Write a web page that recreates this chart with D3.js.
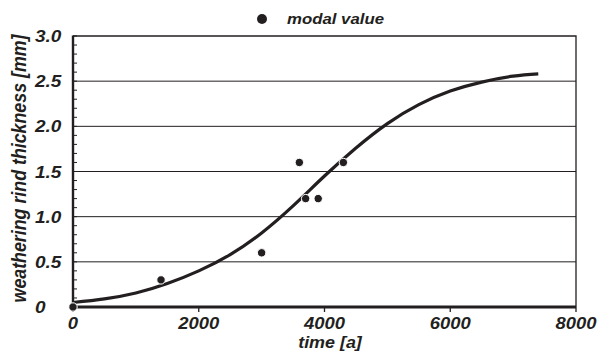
<!DOCTYPE html>
<html>
<head>
<meta charset="utf-8">
<script src="https://cdn.jsdelivr.net/npm/d3@7"></script>
<style>
  body { margin: 0; background: #fff; }
  text { font-family: "Liberation Sans", Arial, sans-serif; font-weight: bold; font-style: italic; fill: #231f20; }
</style>
</head>
<body>
<script>
// modal values (time [a], thickness [mm])
const modalTime = [0, 1400, 3000, 3600, 3700, 3900, 4300];
const modalThickness = [0, 0.3, 0.6, 1.6, 1.2, 1.2, 1.6];

// fitted curve
const curveTime = [0, 500, 1000, 1500, 2000, 2500, 3000, 3500, 4000, 4500, 5000, 5500, 6000, 6500, 7000, 7400];
const curveThickness = [0.05, 0.09, 0.155, 0.26, 0.4, 0.58, 0.82, 1.12, 1.45, 1.76, 2.03, 2.24, 2.39, 2.49, 2.555, 2.58];

const xTicks = [0, 2000, 4000, 6000, 8000];
const yTicks = [0, 0.5, 1.0, 1.5, 2.0, 2.5, 3.0];
const yTickLabels = ['0', '0.5', '1.0', '1.5', '2.0', '2.5', '3.0'];

const width = 598, height = 357;
const margin = { top: 36, right: 22, bottom: 50, left: 73 };
const ink = '#231f20';
const stretch = 1.12; // the lettering is a bit wide

const svg = d3.select('body').append('svg')
  .attr('width', width)
  .attr('height', height);

const x = d3.scaleLinear().domain([0, 8000]).range([margin.left, width - margin.right]);
const y = d3.scaleLinear().domain([0, 3]).range([height - margin.bottom, margin.top]);

function label(parent, px, py, size, anchor, str) {
  return parent.append('text')
    .attr('transform', 'translate(' + px + ',' + py + ') scale(' + stretch + ',1)')
    .attr('text-anchor', anchor)
    .attr('font-size', size)
    .text(str);
}

// horizontal grid lines
svg.append('g').selectAll('line')
  .data(yTicks.slice(1, -1))
  .join('line')
  .attr('x1', x(0)).attr('x2', x(8000))
  .attr('y1', d => y(d)).attr('y2', d => y(d))
  .attr('stroke', ink).attr('stroke-width', 1);

// frame: top and right thin
svg.append('path')
  .attr('d', ['M', x(0), y(3), 'L', x(8000), y(3), 'L', x(8000), y(0)].join(' '))
  .attr('fill', 'none').attr('stroke', ink).attr('stroke-width', 1.3);

// minor ticks on y axis, inside
const minor = d3.range(0, 3.001, 0.1);
svg.append('g').selectAll('line')
  .data(minor)
  .join('line')
  .attr('x1', x(0)).attr('x2', x(0) + 4)
  .attr('y1', d => y(d)).attr('y2', d => y(d))
  .attr('stroke', ink).attr('stroke-width', 1);

// x ticks, outside
svg.append('g').selectAll('line')
  .data(xTicks)
  .join('line')
  .attr('x1', d => x(d)).attr('x2', d => x(d))
  .attr('y1', y(0)).attr('y2', y(0) + 5)
  .attr('stroke', ink).attr('stroke-width', 1.3);

// main axes
svg.append('line')
  .attr('x1', x(0)).attr('x2', x(0)).attr('y1', y(3) - 0.6).attr('y2', y(0))
  .attr('stroke', ink).attr('stroke-width', 2.4);
svg.append('line')
  .attr('x1', x(0) - 1).attr('x2', x(8000)).attr('y1', y(0)).attr('y2', y(0))
  .attr('stroke', ink).attr('stroke-width', 2.8);

// tick labels
const xLab = svg.append('g');
xTicks.forEach(d => label(xLab, x(d), 328.5, 16.5, 'middle', d));

const yLab = svg.append('g');
yTicks.forEach((d, i) => label(yLab, 35, y(d) + 6, 17, 'start', yTickLabels[i]));

// axis titles
label(svg, 330, 347.5, 16, 'middle', 'time [a]');

svg.append('text')
  .attr('transform', 'translate(26,' + 168.5 + ') scale(1.15,1) rotate(-90)')
  .attr('text-anchor', 'middle')
  .attr('font-size', 17.8)
  .text('weathering rind thickness [mm]');

// curve
const line = d3.line()
  .x(d => x(d[0]))
  .y(d => y(d[1]))
  .curve(d3.curveNatural);

svg.append('path')
  .datum(d3.zip(curveTime, curveThickness))
  .attr('d', line)
  .attr('fill', 'none')
  .attr('stroke', ink)
  .attr('stroke-width', 3.2);

// points
svg.append('g').selectAll('circle')
  .data(d3.zip(modalTime, modalThickness))
  .join('circle')
  .attr('cx', d => x(d[0])).attr('cy', d => y(d[1]))
  .attr('r', 4.2)
  .attr('fill', ink)
  .attr('stroke', '#fff').attr('stroke-width', 1);

// legend
svg.append('circle')
  .attr('cx', 262).attr('cy', 19).attr('r', 5)
  .attr('fill', ink);
label(svg, 287, 24, 15, 'start', 'modal value');
</script>
</body>
</html>
